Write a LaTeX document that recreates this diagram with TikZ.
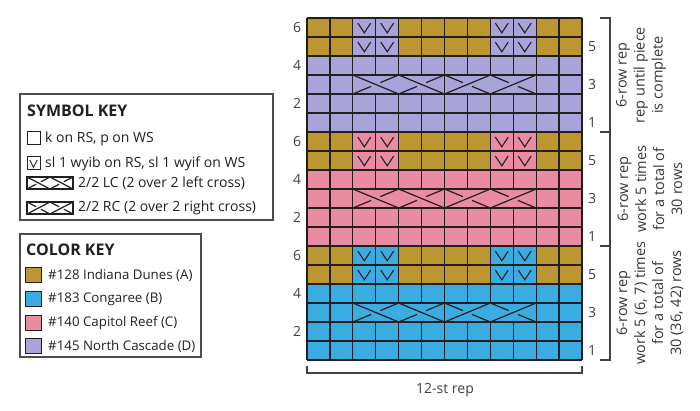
\documentclass[tikz,border=0pt]{standalone}
\usepackage{fontspec}
\setmainfont{Open Sans}
\definecolor{cA}{HTML}{BC9631}
\definecolor{cB}{HTML}{3AACE2}
\definecolor{cC}{HTML}{E98BA1}
\definecolor{cD}{HTML}{A8A3D9}
\definecolor{ink}{HTML}{231F20}
\def\W{22.9167}
\def\H{19}
\newcommand\cablesym[6]{%
 \begin{scope}[shift={(#1,#2)},x=#3pt,y=#4pt]
  \fill[#6] (0,0) rectangle (4,1);
  \draw[gridline] (0,0) rectangle (4,1);
  \ifx L#5
   \draw[cableline] (0,1)--(2,0) (2,1)--(4,0);
   \draw[cableline] (0,0)--(0.8,0.4) (1.2,0.6)--(2,1) (2,0)--(2.8,0.4) (3.2,0.6)--(4,1);
  \else
   \draw[cableline] (0,0)--(2,1) (2,0)--(4,1);
   \draw[cableline] (0,1)--(0.8,0.6) (1.2,0.4)--(2,0) (2,1)--(2.8,0.6) (3.2,0.4)--(4,0);
  \fi
 \end{scope}}
\newcommand\slipV[2]{%
 \draw[vline] (#1+0.22*\W,#2+0.27*\H) -- (#1+0.5*\W,#2+0.78*\H) -- (#1+0.78*\W,#2+0.27*\H);}
\begin{document}
\begin{tikzpicture}[x=1pt,y=-1pt,
  gridline/.style={draw=ink,line width=1.3pt},
  cableline/.style={draw=ink,line width=1.2pt},
  vline/.style={draw=ink,line width=1.1pt,line join=miter},
  keybox/.style={draw=ink!80,line width=1.2pt},
  keytext/.style={font=\fontsize{14}{16}\selectfont,text=ink,anchor=west,inner sep=0pt},
  colortext/.style={font=\fontsize{13.3}{16}\selectfont,text=ink,anchor=west,inner sep=0pt},
  keyhead/.style={font=\fontsize{16}{18}\selectfont\bfseries,text=ink,anchor=west,inner sep=0pt},
  rownum/.style={font=\fontsize{14}{16}\selectfont,text=ink!85,inner sep=0pt},
  sidetext/.style={font=\fontsize{14.5}{18}\selectfont,text=ink!90,rotate=90,align=center,inner sep=0pt},
  swatch/.style={draw=ink,line width=1pt}]
\useasboundingbox (0,0) rectangle (700,411);
\fill[white] (0,0) rectangle (700,411);
% ---------- chart fills ----------
\foreach \b/\mc in {0/cB,1/cC,2/cD}{
  \pgfmathsetmacro\yb{360-114*\b}
  \pgfmathsetmacro\yt{360-114*\b-114}
  \pgfmathsetmacro\yg{360-114*\b-76}
  \fill[\mc] (307,\yt) rectangle (582,\yb);
  \fill[cA] (307,\yt) rectangle (307+2*\W,\yg);
  \fill[cA] (307+4*\W,\yt) rectangle (307+8*\W,\yg);
  \fill[cA] (307+10*\W,\yt) rectangle (582,\yg);
}
% ---------- grid ----------
\foreach \i in {0,...,18}{\draw[gridline] (307,18+\i*\H) -- (582,18+\i*\H);}
\foreach \j in {0,...,12}{\draw[gridline] (307+\j*\W,18) -- (307+\j*\W,360);}
% ---------- cables (row 3 of each block) ----------
\foreach \b/\mc in {0/cB,1/cC,2/cD}{
  \pgfmathsetmacro\cyb{360-114*\b-2*\H}
  \cablesym{307+2*\W}{\cyb}{\W}{\H}{L}{\mc}
  \cablesym{307+6*\W}{\cyb}{\W}{\H}{R}{\mc}
}
% ---------- slip stitches ----------
\foreach \b in {0,1,2}{
  \foreach \rr in {5,6}{
    \foreach \c in {3,4,9,10}{
      \pgfmathsetmacro\ytop{360-114*\b-\rr*\H}
      \pgfmathsetmacro\xl{307+(\c-1)*\W}
      \slipV{\xl}{\ytop}
    }}}
% ---------- row numbers ----------
\foreach \b in {0,1,2}{
  \foreach \r in {2,4,6}{
    \pgfmathsetmacro\yc{360-114*\b-(\r-0.5)*\H}
    \node[rownum] (L\b\r) at (297,\yc) {\r};}
  \foreach \r in {1,3,5}{
    \pgfmathsetmacro\yc{360-114*\b-(\r-0.5)*\H}
    \node[rownum] (R\b\r) at (592,\yc) {\r};}
}
% ---------- right brackets ----------
\coordinate (bt) at (610,18);
\coordinate (bm1) at (610,132);
\coordinate (bm2) at (610,246);
\coordinate (bb) at (610,360);
\draw[ink!85,line width=1.2pt] (600,18) -- (bt) -- (bb) -- (600,360);
\draw[ink!85,line width=1.2pt] (600,132) -- (bm1);
\draw[ink!85,line width=1.2pt] (600,246) -- (bm2);
\node[sidetext] (t1) at (641,75) {6-row rep\\rep until piece\\is complete};
\node[sidetext] (t2) at (650,189) {6-row rep\\work 5 times\\for a total of\\30 rows};
\node[sidetext] (t3) at (650,303) {6-row rep\\work 5 (6, 7) times\\for a total of\\30 (36, 42) rows};
% ---------- bottom bracket ----------
\coordinate (sl) at (307,373);
\coordinate (sr) at (582,373);
\draw[ink!85,line width=1.2pt] (307,366) -- (sl) -- (sr) -- (582,366);
\node[rownum] (strep) at (445,390) {12-st rep};
% ---------- symbol key ----------
\draw[keybox] (20,94) rectangle (273,220);
\node[keyhead] (skh) at (27,111) {SYMBOL KEY};
\draw[swatch,fill=white] (27,132) rectangle (40,145);
\node[keytext] (sk1) at (45,139) {k on RS, p on WS};
\draw[swatch,fill=white] (27,157) rectangle (40,170);
\draw[vline,line width=0.9pt] (29.8,160) -- (33.5,167.5) -- (37.2,160);
\node[keytext] (sk2) at (45,164) {sl 1 wyib on RS, sl 1 wyif on WS};
\cablesym{27}{189}{11.5}{12}{L}{white}
\node[keytext] (sk3) at (78,183) {2/2 LC (2 over 2 left cross)};
\cablesym{27}{214}{11.5}{12}{R}{white}
\node[keytext] (sk4) at (78,208) {2/2 RC (2 over 2 right cross)};
% ---------- color key ----------
\draw[keybox] (20,234) rectangle (201,357);
\node[keyhead] (ckh) at (26,250) {COLOR KEY};
\foreach \y/\cc/\t [count=\k] in {275/cA/{\#128 Indiana Dunes (A)},299/cB/{\#183 Congaree (B)},323/cC/{\#140 Capitol Reef (C)},346/cD/{\#145 North Cascade (D)}}{
  \draw[swatch,fill=\cc] (25,\y-7.5) rectangle (41,\y+7.5);
  \node[colortext] (ck\k) at (48,\y) {\t};
}
\end{tikzpicture}
\end{document}
